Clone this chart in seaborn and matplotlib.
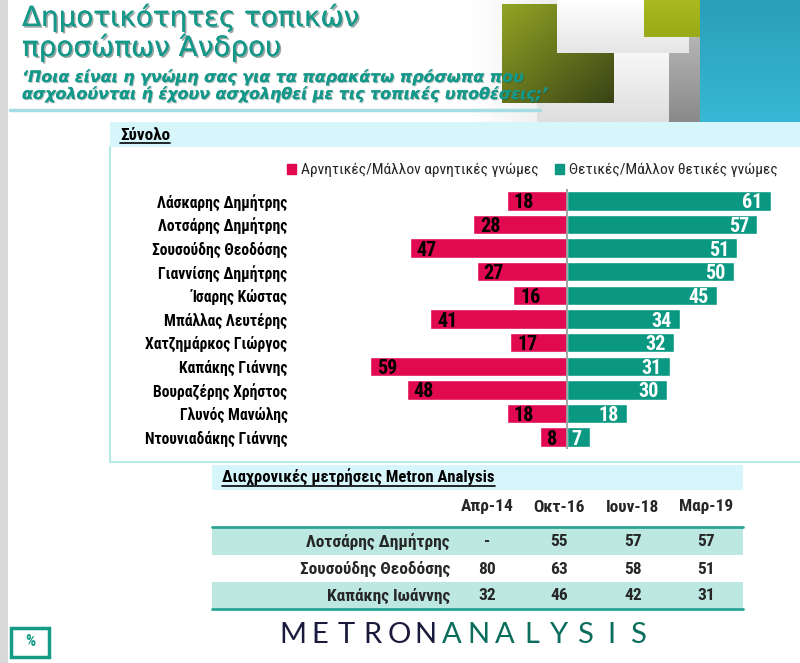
import numpy as np
import pandas as pd
import matplotlib
matplotlib.use("Agg")
import matplotlib.pyplot as plt
import matplotlib.patheffects as pe
import matplotlib.font_manager as fm
from matplotlib.patches import Rectangle, Patch
from matplotlib.colors import to_rgb
import seaborn as sns

# ---- data ----
names = ["Λάσκαρης Δημήτρης", "Λοτσάρης Δημήτρης", "Σουσούδης Θεοδόσης",
         "Γιαννίσης Δημήτρης", "Ίσαρης Κώστας", "Μπάλλας Λευτέρης",
         "Χατζημάρκος Γιώργος", "Καπάκης Γιάννης", "Βουραζέρης Χρήστος",
         "Γλυνός Μανώλης", "Ντουνιαδάκης Γιάννης"]
negative = [18, 28, 47, 27, 16, 41, 17, 59, 48, 18, 8]
positive = [61, 57, 51, 50, 45, 34, 32, 31, 30, 18, 7]
neg_label = "Αρνητικές/Μάλλον αρνητικές γνώμες"
pos_label = "Θετικές/Μάλλον θετικές γνώμες"

trend_cols = ["Απρ-14", "Οκτ-16", "Ιουν-18", "Μαρ-19"]
trend_names = ["Λοτσάρης Δημήτρης", "Σουσούδης Θεοδόσης", "Καπάκης Ιωάννης"]
trend_lotsaris = ["-", "55", "57", "57"]
trend_sousoudis = ["80", "63", "58", "51"]
trend_kapakis = ["32", "46", "42", "31"]

RED = "#e10a50"
TEAL = "#0a9882"
TITLE_TEAL = "#13988a"

W, H = 800, 663
fonts = fm.fontManager.ttflist
avail = {f.name for f in fonts}
dejavu_cond = any(f.name == "DejaVu Sans" and str(f.stretch) == "condensed" for f in fonts)
NARROW, STRETCH = "DejaVu Sans", "normal"
for cand in ["Liberation Sans Narrow", "Roboto Condensed", "Open Sans Condensed"]:
    if cand in avail:
        NARROW = cand
        break
else:
    if dejavu_cond:
        NARROW, STRETCH = "DejaVu Sans", "condensed"
    elif "Roboto" in avail:
        NARROW = "Roboto"
LOGO = "Lato" if "Lato" in avail else "DejaVu Sans"

sns.set_theme(style="white")
plt.rcParams["font.family"] = [NARROW, "DejaVu Sans"]
plt.rcParams["font.stretch"] = STRETCH


def fx(x):
    return x / W


def fy(y):
    return 1 - y / H


fig = plt.figure(figsize=(8, 6.63), dpi=100)
renderer = fig.canvas.get_renderer()


def fit(t, target):
    # scale a text so its width matches the reference width in pixels
    w = t.get_window_extent(renderer).width
    t.set_fontsize(t.get_fontsize() * target / w)
    return t


def rect(x0, y0, x1, y1, color, z=1, **kw):
    fig.add_artist(Rectangle((fx(x0), fy(y1)), (x1 - x0) / W, (y1 - y0) / H,
                             transform=fig.transFigure, facecolor=color,
                             edgecolor="none", zorder=z, **kw))


def grad(x0, y0, x1, y1, c1, c2, mode="diag", z=0):
    g = fig.add_axes([fx(x0), fy(y1), (x1 - x0) / W, (y1 - y0) / H], zorder=z)
    a, b = np.array(to_rgb(c1)), np.array(to_rgb(c2))
    u = np.linspace(0, 1, 64)
    if mode == "h":
        t = np.tile(u, (64, 1))
    elif mode == "v":
        t = np.tile(u[:, None], (1, 64))
    else:
        t = (u[None, :] + u[:, None]) / 2
    g.imshow(a + (b - a) * t[..., None], aspect="auto", interpolation="bilinear")
    g.axis("off")


# ---- page decoration ----
rect(0, 0, 8, H, "#d9d9d9")
grad(470, 0, 700, 122, "#ffffff", "#cfcfcf", "h")
grad(537, 53, 669, 122, "#f7f7f7", "#dedede", "v", z=0.1)
grad(669, 37, 700, 122, "#b4b4b4", "#8a8a8a", "v", z=0.1)
grad(502, 4, 613, 103, "#92a424", "#3a4416", "diag", z=0.2)
grad(557, 0, 689, 53, "#ffffff", "#e6e6e6", "v", z=0.3)
grad(644, 0, 700, 37, "#a9b91f", "#9aaa18", "v", z=0.3)
grad(700, 0, 800, 122, "#2a9fba", "#37b8d4", "v", z=0.3)
fig.add_artist(plt.Line2D([fx(10), fx(540)], [fy(110), fy(110)], transform=fig.transFigure,
                          color="#a6dce4", lw=2.5, zorder=2))

# titles (wide, Verdana-like face)
TITLE_FONT = ["DejaVu Sans"]
shadow = [pe.withSimplePatchShadow(offset=(1.2, -1.2), shadow_rgbFace="#1b3b36", alpha=0.45), pe.Normal()]
shadow_s = [pe.withSimplePatchShadow(offset=(0.8, -0.8), shadow_rgbFace="#1b3b36", alpha=0.3), pe.Normal()]
t1 = fig.text(fx(22), fy(26), "Δημοτικότητες τοπικών", fontsize=20, color=TITLE_TEAL,
              family=TITLE_FONT, stretch="normal", va="baseline", path_effects=shadow, zorder=5)
t2 = fig.text(fx(22), fy(56), "προσώπων Άνδρου", fontsize=20, color=TITLE_TEAL,
              family=TITLE_FONT, stretch="normal", va="baseline", path_effects=shadow, zorder=5)
fit(t1, 337)
t2.set_fontsize(t1.get_fontsize())
s1 = fig.text(fx(22), fy(82), "‘Ποια είναι η γνώμη σας για τα παρακάτω πρόσωπα που",
              fontsize=11, fontweight="bold", style="italic", color=TITLE_TEAL,
              family=TITLE_FONT, stretch="normal", va="baseline", path_effects=shadow_s, zorder=5)
s2 = fig.text(fx(22), fy(99), "ασχολούνται ή έχουν ασχοληθεί με τις τοπικές υποθέσεις;’",
              fontsize=11, fontweight="bold", style="italic", color=TITLE_TEAL,
              family=TITLE_FONT, stretch="normal", va="baseline", path_effects=shadow_s, zorder=5)
fit(s1, 501)
s2.set_fontsize(s1.get_fontsize())

# chart panel
rect(110, 122, 800, 147, "#d6f6fb", z=1)
fig.add_artist(plt.Line2D([fx(110), fx(110), fx(800)], [fy(147), fy(462), fy(462)],
                          transform=fig.transFigure, color="#b5ecea", lw=1.5, zorder=2))
hdr1 = fig.text(fx(120), fy(140), "Σύνολο", fontsize=11, fontweight="bold",
                color="black", va="baseline", zorder=5)
fit(hdr1, 50)

# ---- bar chart ----
df = pd.DataFrame({"name": names, "neg": [-v for v in negative], "pos": positive})
ax = fig.add_axes([fx(300), fy(449), 490 / W, 260 / H], zorder=2)
ax.patch.set_alpha(0)
sns.barplot(data=df, x="neg", y="name", orient="h", color=RED, saturation=1,
            width=0.82, errorbar=None, ax=ax)
sns.barplot(data=df, x="pos", y="name", orient="h", color=TEAL, saturation=1,
            width=0.82, errorbar=None, ax=ax)
for i, (n, p) in enumerate(zip(negative, positive)):
    ax.annotate(str(n), xy=(-n, i), xytext=(5, 0), textcoords="offset points",
                ha="left", va="center_baseline", fontsize=14.5, fontweight="bold", color="black")
    ax.annotate(str(p), xy=(p, i), xytext=(-6, 0), textcoords="offset points",
                ha="right", va="center_baseline", fontsize=14.5, fontweight="bold", color="white")
ax.axvline(0, color="#9c9c9c", lw=1.3, zorder=4)
ax.set_xlim(-79.9, 66.8)
ax.set_ylim(10.5, -0.5)
ax.set_xlabel("")
ax.set_ylabel("")
ax.set_xticks([])
sns.despine(ax=ax, left=True, bottom=True)
ax.tick_params(axis="y", length=0, pad=9, labelsize=11.5)
labs = ax.get_yticklabels()
for lab in labs:
    lab.set_fontweight("bold")
    lab.set_color("black")
w0 = labs[0].get_window_extent(renderer).width
name_size = 11.5 * 131 / w0
ax.tick_params(axis="y", labelsize=name_size)

handles = [Patch(color=RED, label=neg_label), Patch(color=TEAL, label=pos_label)]
probe = fig.text(0, 0, neg_label, fontsize=11)
fit(probe, 236)
leg_size = probe.get_fontsize()
probe.remove()
fig.legend(handles=handles, loc="center right", bbox_to_anchor=(fx(778), fy(170)),
           bbox_transform=fig.transFigure, ncol=2, frameon=False, fontsize=leg_size,
           handlelength=0.6, handleheight=0.6, handletextpad=0.35,
           columnspacing=1.0, borderaxespad=0, borderpad=0)

# ---- trend table ----
rect(212, 465, 743, 490, "#d6f6fb", z=1)
hdr2 = fig.text(fx(222), fy(483), "Διαχρονικές μετρήσεις Metron Analysis", fontsize=11,
                fontweight="bold", color="black", va="baseline", zorder=5)
fit(hdr2, 272)
rect(212, 527, 743, 555, "#bde8e1", z=1)
rect(212, 582, 743, 609, "#bde8e1", z=1)
for yy in (527, 609):
    fig.add_artist(plt.Line2D([fx(212), fx(743)], [fy(yy), fy(yy)], transform=fig.transFigure,
                              color="#2ba596", lw=2, zorder=2))
probe = fig.text(0, 0, "Σουσούδης Θεοδόσης", fontsize=11, fontweight="bold")
fit(probe, 150)
tab_size = probe.get_fontsize()
probe.remove()
col_x = [487, 559, 633, 706]
for cx, c in zip(col_x, trend_cols):
    fig.text(fx(cx), fy(507), c, fontsize=tab_size, fontweight="bold", ha="center", va="center", zorder=5)
for ry, nm, vals in zip([542, 569, 596], trend_names, [trend_lotsaris, trend_sousoudis, trend_kapakis]):
    fig.text(fx(450), fy(ry), nm, fontsize=tab_size, fontweight="bold", ha="right", va="center", zorder=5)
    for cx, v in zip(col_x, vals):
        fig.text(fx(cx), fy(ry), v, fontsize=tab_size, fontweight="bold", ha="center", va="center", zorder=5)

# underline the two section headers
for t in (hdr1, hdr2):
    bb = t.get_window_extent(renderer).transformed(fig.transFigure.inverted())
    yb = t.get_position()[1] - 2.5 / H
    fig.add_artist(plt.Line2D([bb.x0, bb.x1], [yb, yb], transform=fig.transFigure,
                              color="black", lw=1.2, zorder=5))

# ---- footer ----
fig.add_artist(Rectangle((fx(11), fy(657)), 38 / W, 29 / H, transform=fig.transFigure,
                         facecolor="white", edgecolor="#139b84", lw=2.5, zorder=3))
fig.text(fx(30), fy(642), "%", fontsize=11.5, fontweight="bold", color="#139b84",
         ha="center", va="center", zorder=5)
for k, ch in enumerate("METRONANALYSIS"):
    fig.text(fx(293 + 26.5 * k), fy(635), ch, family=LOGO, fontweight="normal", fontsize=21,
             color="#1a1a3c" if k < 6 else "#0b6d5c", ha="center", va="center", zorder=5)

fig.savefig("out.png", dpi=100)
